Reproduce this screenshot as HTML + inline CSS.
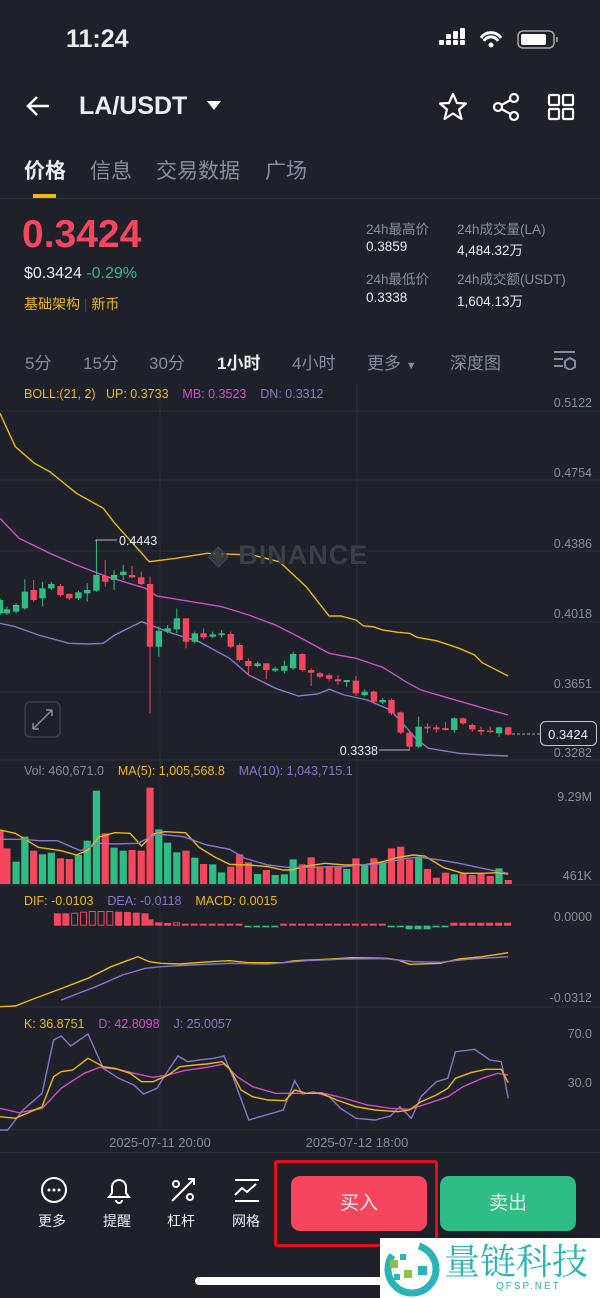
<!DOCTYPE html>
<html><head><meta charset="utf-8"><style>
body{margin:0;width:600px;height:1298px;background:#1e2129;overflow:hidden;position:relative;font-family:"Liberation Sans","Noto Sans CJK SC",sans-serif;color:#eaecef}
.a{position:absolute;white-space:nowrap}
.g{color:#848e9c}
</style></head><body>
<div class="a" style="left:66px;top:25px;font-size:25px;font-weight:bold">11:24</div>
<svg class="a" style="left:436px;top:28px" width="130" height="24">
<g fill="#fff"><rect x="3" y="12" width="5" height="5" rx="1"/><rect x="10" y="12" width="5" height="5" rx="1"/><rect x="17" y="12" width="5" height="5" rx="1"/><rect x="24" y="12" width="5" height="5" rx="1"/><rect x="10" y="6" width="5" height="5" rx="1"/><rect x="17" y="3" width="5" height="8" rx="1"/><rect x="24" y="0" width="5" height="11" rx="1"/></g>
<path d="M45 10 a12 12 0 0 1 20 0 M48 13 a8 8 0 0 1 14 0" stroke="#fff" stroke-width="3" fill="none"/><circle cx="55" cy="17" r="2.5" fill="#fff"/>
<rect x="82" y="3" width="36" height="17" rx="5" stroke="#aaa" stroke-width="1.5" fill="none"/><rect x="85" y="6" width="25" height="11" rx="2" fill="#fff"/><rect x="120" y="9" width="2" height="5" fill="#888"/>
</svg>
<svg class="a" style="left:24px;top:94px" width="30" height="24"><path d="M25 12H4 M13 3 L4 12 L13 21" stroke="#fff" stroke-width="2.5" fill="none"/></svg>
<div class="a" style="left:79px;top:92px;font-size:25px;font-weight:bold">LA/USDT</div>
<svg class="a" style="left:206px;top:100px" width="16" height="12"><path d="M1 1H15L8 10Z" fill="#fff"/></svg>
<svg class="a" style="left:438px;top:92px" width="140" height="30"><path d="M15 2 L19 11 L28 11.5 L21 17.5 L23.5 27 L15 21.5 L6.5 27 L9 17.5 L2 11.5 L11 11Z" stroke="#fff" stroke-width="2.2" fill="none" stroke-linejoin="round"/>
<g stroke="#fff" stroke-width="2.2" fill="none"><circle cx="60" cy="15" r="4"/><circle cx="76" cy="6" r="4"/><circle cx="76" cy="24" r="4"/><path d="M63.5 13 L72.5 8 M63.5 17 L72.5 22"/>
<rect x="111" y="3" width="10" height="10" rx="1"/><rect x="125" y="3" width="10" height="10" rx="1"/><rect x="111" y="17" width="10" height="10" rx="1"/><rect x="125" y="17" width="10" height="10" rx="1"/></g></svg>
<div class="a" style="left:24px;top:155px;font-size:21px;font-weight:bold">价格</div>
<div class="a g" style="left:90px;top:155px;font-size:21px">信息</div>
<div class="a g" style="left:156px;top:155px;font-size:21px">交易数据</div>
<div class="a g" style="left:265px;top:155px;font-size:21px">广场</div>
<div class="a" style="left:33px;top:194px;width:23px;height:4px;background:#f0b90b"></div>
<div class="a" style="left:0;top:198px;width:600px;height:1px;background:#2b2f36"></div>
<div class="a" style="left:22px;top:213px;font-size:39px;font-weight:bold;color:#f6465d">0.3424</div>
<div class="a" style="left:24px;top:265px;font-size:16px">$0.3424 <span style="color:#2ebd85">-0.29%</span></div>
<div class="a" style="left:24px;top:294px;font-size:14px;color:#f0b90b">基础架构 <span style="color:#444">|</span> 新币</div>
<div class="a g" style="left:366px;top:218px;font-size:13.5px">24h最高价</div>
<div class="a" style="left:366px;top:239px;font-size:13.5px">0.3859</div>
<div class="a g" style="left:366px;top:268px;font-size:13.5px">24h最低价</div>
<div class="a" style="left:366px;top:290px;font-size:13.5px">0.3338</div>
<div class="a g" style="left:457px;top:218px;font-size:13.5px">24h成交量(LA)</div>
<div class="a" style="left:457px;top:239px;font-size:13.5px">4,484.32万</div>
<div class="a g" style="left:457px;top:268px;font-size:13.5px">24h成交额(USDT)</div>
<div class="a" style="left:457px;top:290px;font-size:13.5px">1,604.13万</div>
<div class="a g" style="left:25px;top:349px;font-size:17px">5分</div>
<div class="a g" style="left:83px;top:349px;font-size:17px">15分</div>
<div class="a g" style="left:149px;top:349px;font-size:17px">30分</div>
<div class="a" style="left:217px;top:349px;font-size:17px;font-weight:bold">1小时</div>
<div class="a g" style="left:292px;top:349px;font-size:17px">4小时</div>
<div class="a g" style="left:367px;top:349px;font-size:17px">更多 <span style="font-size:11px">▼</span></div>
<div class="a g" style="left:450px;top:349px;font-size:17px">深度图</div>
<svg class="a" style="left:553px;top:350px" width="24" height="20"><path d="M1 2H22 M1 9H10 M1 16H10" stroke="#848e9c" stroke-width="2"/><path d="M17 8 L22 11 L22 17 L17 20 L12 17 L12 11Z" stroke="#848e9c" stroke-width="2" fill="none"/></svg>

<svg class="a" id="ch" style="left:0;top:0" width="600" height="1150"></svg>
<div class="a" style="left:24px;top:387px;font-size:12.5px;color:#f0b90b">BOLL:(21, 2)&nbsp;&nbsp; UP: 0.3733&nbsp;&nbsp;&nbsp; <span style="color:#d04fc6">MB: 0.3523</span>&nbsp;&nbsp;&nbsp; <span style="color:#8a76c8">DN: 0.3312</span></div>
<div class="a g" style="left:24px;top:764px;font-size:12.5px">Vol: 460,671.0&nbsp;&nbsp;&nbsp; <span style="color:#f0b90b">MA(5): 1,005,568.8</span>&nbsp;&nbsp;&nbsp; <span style="color:#8a76c8">MA(10): 1,043,715.1</span></div>
<div class="a" style="left:24px;top:894px;font-size:12.5px;color:#f0b90b">DIF: -0.0103&nbsp;&nbsp;&nbsp; <span style="color:#8a76c8">DEA: -0.0118</span>&nbsp;&nbsp;&nbsp; MACD: 0.0015</div>
<div class="a" style="left:24px;top:1017px;font-size:12.5px;color:#f0b90b">K: 36.8751&nbsp;&nbsp;&nbsp; <span style="color:#d04fc6">D: 42.8098</span>&nbsp;&nbsp;&nbsp; <span style="color:#8a76c8">J: 25.0057</span></div>
<div class="a" style="left:208px;top:540px;font-size:27px;font-weight:bold;color:#3a3e47;letter-spacing:1px">◈ BINANCE</div>

<div class="a" style="left:0;top:1152px;width:600px;height:1px;background:#2b2f36"></div>
<svg class="a" style="left:38px;top:1175px" width="230" height="30"><g stroke="#fff" stroke-width="2" fill="none">
<circle cx="16" cy="15" r="12"/><path d="M81 5 a7 7 0 0 1 7 7 v6 l3 4 h-20 l3-4 v-6 a7 7 0 0 1 7-7z M78 25 a3 3 0 0 0 6 0"/>
<path d="M134 26 L156 4 M150 4 h6 v6"/><circle cx="138" cy="9" r="3"/><circle cx="152" cy="22" r="3"/>
<path d="M197 5 h24 M197 26 h24 M197 20 l7-7 l5 4 l9-8"/></g>
<g fill="#fff"><circle cx="11" cy="15" r="1.5"/><circle cx="16" cy="15" r="1.5"/><circle cx="21" cy="15" r="1.5"/></g></svg>
<div class="a" style="left:38px;top:1211px;font-size:14px">更多</div>
<div class="a" style="left:103px;top:1211px;font-size:14px">提醒</div>
<div class="a" style="left:167px;top:1211px;font-size:14px">杠杆</div>
<div class="a" style="left:232px;top:1211px;font-size:14px">网格</div>
<div class="a" style="left:274px;top:1160px;width:158px;height:81px;border:3px solid #e0101a;border-radius:3px"></div>
<div class="a" style="left:291px;top:1176px;width:136px;height:55px;background:#f6465d;border-radius:9px;font-size:19px;text-align:center;line-height:55px">买入</div>
<div class="a" style="left:440px;top:1176px;width:136px;height:55px;background:#2ebd85;border-radius:9px;font-size:19px;text-align:center;line-height:55px">卖出</div>
<div class="a" style="left:195px;top:1277px;width:200px;height:8px;background:#fff;border-radius:4px"></div>
<div class="a" style="left:380px;top:1238px;width:220px;height:60px;background:#fff"></div>
<svg class="a" style="left:382px;top:1240px" width="60" height="58"><circle cx="30" cy="29" r="24" stroke="#2bb3b8" stroke-width="7" fill="none" stroke-dasharray="90 30"/><g fill="#8bc34a"><rect x="8" y="20" width="8" height="8"/><rect x="22" y="30" width="8" height="8"/></g><g fill="#2bb3b8"><rect x="18" y="14" width="6" height="6"/><rect x="12" y="34" width="6" height="6"/><rect x="36" y="26" width="9" height="9"/></g></svg>
<div class="a" style="left:444px;top:1240px;font-size:36px;line-height:40px;color:#2bb3b8;font-family:'Noto Serif CJK SC',serif">量链科技</div>
<div class="a" style="left:496px;top:1281px;font-size:10px;color:#2bb3b8;letter-spacing:2px">QFSP.NET</div>

<script>
const S=2.613,sv=document.getElementById('ch');
let h='';
const R='#f6465d',G='#2ebd85',X=z=>z/S;
[411,480,551,622,692,760,885,1007,1130].forEach(y=>h+=`<line x1="0" x2="600" y1="${y}" y2="${y}" stroke="#2a2e36" stroke-width="1"/>`);
[160,357].forEach(x=>h+=`<line x1="${x}" x2="${x}" y1="384" y2="1130" stroke="#2a2e36" stroke-width="1"/>`);
const T=(x,y,t,c,s,a)=>h+=`<text x="${x}" y="${y}" fill="${c||'#848e9c'}" font-size="${s||12.5}" text-anchor="${a||'end'}" font-family="Liberation Sans">${t}</text>`;
[['0.5122',407],['0.4754',477],['0.4386',548],['0.4018',618],['0.3651',688],['0.3282',757],['9.29M',801],['461K',880],['0.0000',921],['-0.0312',1002],['70.0',1038],['30.0',1087]].forEach(v=>T(592,v[1],v[0]));
T(160,1147,'2025-07-11 20:00','#848e9c',13,'middle');T(357,1147,'2025-07-12 18:00','#848e9c',13,'middle');
const C=[[0,'g',660,700,655,705],[18,'g',700,688,680,705],[42,'g',695,675,670,700],[65,'g',685,635,598,690],[88,'r',630,660,600,665],[111,'g',655,625,605,680],[134,'g',625,612,605,630],[158,'r',618,645,612,650],[181,'r',642,655,640,660],[205,'g',655,637,632,660],[228,'g',640,630,610,665],[252,'g',632,585,482,635],[275,'r',588,605,540,620],[298,'g',600,585,570,630],[322,'g',585,575,555,600],[345,'r',585,592,558,595],[369,'r',592,612,575,615],[392,'r',612,800,590,1000],[415,'g',800,752,740,830],[438,'g',755,745,735,760],[462,'g',748,715,685,760],[486,'r',715,785,715,805],[509,'g',785,760,755,790],[532,'r',760,772,745,778],[556,'g',770,763,755,775],[579,'g',765,760,750,772],[603,'r',762,800,755,805],[626,'r',795,840,790,845],[649,'r',843,858,835,885],[673,'g',858,850,845,862],[696,'r',850,870,850,898],[719,'g',872,866,860,876],[743,'g',872,858,842,880],[766,'g',865,822,815,870],[790,'r',822,870,820,875],[813,'r',870,878,865,918],[836,'r',880,890,875,895],[860,'r',886,896,880,905],[883,'r',898,904,885,915],[906,'g',906,900,900,920],[930,'r',902,940,888,948],[953,'g',945,935,928,950],[977,'r',935,965,932,970],[1000,'g',967,960,955,972],[1023,'r',960,1000,955,1005],[1047,'r',997,1058,995,1062],[1070,'r',1058,1100,1055,1108],[1094,'g',1100,1040,1010,1105],[1117,'r',1040,1045,1030,1060],[1140,'r',1042,1048,1035,1058],[1164,'r',1044,1050,1025,1052],[1187,'g',1050,1015,1012,1058],[1210,'r',1015,1030,1012,1035],[1234,'r',1035,1048,1030,1055],[1257,'r',1050,1055,1040,1065],[1281,'r',1052,1056,1040,1058],[1304,'g',1060,1042,1040,1070],[1328,'r',1042,1064,1040,1066]];
const Y1=z=>380+z/3,Y2=z=>760+z/3;
const L=(pts,c,Y)=>h+=`<polyline fill="none" stroke="${c}" stroke-width="1.4" points="${pts.map(p=>X(p[0]).toFixed(1)+','+Y(p[1]).toFixed(1)).join(' ')}"/>`;
L([[0,100],[40,200],[90,250],[130,275],[200,340],[270,385],[300,430],[390,545],[460,535],[540,520],[660,525],[730,545],[800,620],[860,708],[890,708],[930,720],[950,738],[975,740],[1000,750],[1040,757],[1070,760],[1090,772],[1140,782],[1200,805],[1240,825],[1260,848],[1328,888]],'#f0b90b',Y1);
L([[0,415],[50,475],[130,520],[200,555],[280,590],[380,625],[410,648],[500,665],[580,680],[650,705],[720,735],[780,770],[860,820],[930,835],[1000,862],[1060,905],[1100,930],[1160,950],[1220,970],[1280,990],[1328,1005]],'#d04fc6',Y1);
L([[0,730],[40,740],[100,765],[180,790],[230,792],[270,790],[300,765],[370,725],[450,760],[520,785],[600,835],[650,885],[720,925],[780,948],[830,942],[860,928],[900,945],[960,960],[1020,990],[1060,1040],[1090,1080],[1120,1105],[1200,1120],[1260,1125],[1328,1128]],'#8a76c8',Y1);
C.forEach(c=>{const x=X(c[0]),col=c[1]=='g'?G:R,t=Math.min(c[2],c[3]),b=Math.max(c[2],c[3]);
h+=`<line x1="${x}" x2="${x}" y1="${Y1(c[4])}" y2="${Y1(c[5])}" stroke="${col}" stroke-width="1"/><rect x="${x-3.2}" y="${Y1(t)}" width="6.4" height="${Math.max(1.2,(b-t)/3)}" fill="${col}"/>`;});
h+=`<polyline points="96,541 96,540 117,540" fill="none" stroke="#eaecef" stroke-width="0.8"/>`;T(119,545,'0.4443','#eaecef',12.5,'start');
h+=`<line x1="379" x2="410" y1="750" y2="750" stroke="#eaecef" stroke-width="0.8"/>`;T(378,755,'0.3338','#eaecef',12.5,'end');
h+=`<line x1="512" x2="540" y1="734" y2="734" stroke="#aaa" stroke-dasharray="3 2"/><rect x="540.5" y="721.5" width="56" height="24" rx="5" fill="#1e2129" stroke="#c8c8c8"/>`;T(568,739,'0.3424','#eaecef',13,'middle');
h+=`<rect x="25" y="702" width="35" height="35" rx="5" fill="none" stroke="#3a3e47" stroke-width="1.5"/><path d="M33 729 L52 710 M33 729 v-6 M33 729 h6 M52 710 h-6 M52 710 v6" stroke="#848e9c" stroke-width="1.5" fill="none"/>`;
const V=[213,265,305,230,272,283,278,295,297,285,242,92,220,263,272,270,272,83,208,248,277,272,293,312,313,337,320,283,307,342,330,345,343,298,313,292,322,318,320,327,295,313,295,307,265,260,298,290,327,353,338,343,340,345,340,348,325,360];
V.forEach((v,i)=>{const x=X(C[i][0]),col=C[i][1]=='g'?G:R;const cc=i<2?R:col;h+=`<rect x="${x-3.6}" y="${Y2(v)}" width="7.2" height="${884-Y2(v)}" fill="${cc}"/>`;});
L([[0,210],[40,220],[100,262],[160,272],[200,285],[230,270],[260,230],[300,218],[340,220],[370,258],[400,222],[430,215],[485,218],[520,262],[560,290],[600,313],[650,315],[700,320],[740,330],[760,330],[800,318],[850,310],[900,315],[950,315],[1000,305],[1040,292],[1080,285],[1110,288],[1160,323],[1210,340],[1260,340],[1300,338],[1328,342]],'#f0b90b',Y2);
L([[0,238],[60,238],[100,242],[150,242],[210,272],[260,250],[300,252],[360,250],[410,222],[480,230],[540,255],[600,268],[640,295],[700,315],[750,322],[800,322],[900,320],[1000,310],[1060,295],[1100,292],[1150,300],[1200,310],[1260,325],[1328,340]],'#8a76c8',Y2);
const Z=Y2(497);
const MH=[[150,460,1],[172,460,1],[195,458,0],[218,455,0],[241,453,0],[264,453,0],[287,453,0],[310,455,1],[333,456,1],[356,458,1],[379,460,1],[392,478,1],[415,487,1],[438,489,1],[461,487,0]];
MH.forEach(m=>{const x=X(m[0]),y=Y2(m[1]);h+=m[2]?`<rect x="${x-3.5}" y="${y}" width="7" height="${Z-y}" fill="${R}"/>`:`<rect x="${x-3}" y="${y+0.5}" width="6" height="${Z-y-1}" fill="none" stroke="${R}"/>`;});
for(let zx=484;zx<=1330;zx+=23.4){let col,t,b;if(zx>630&&zx<735||zx>1012&&zx<1178){col=G;t=Z;b=Y2(zx>1050&&zx<1130?508:502);}else{col=R;t=Y2(zx>1170?488:491);b=Z;}h+=`<rect x="${X(zx)-3.5}" y="${t}" width="7" height="${Math.max(1.5,b-t)}" fill="${col}"/>`;}
L([[0,740],[40,738],[80,720],[150,690],[230,655],[290,620],[360,590],[390,605],[420,610],[470,612],[550,605],[600,602],[650,608],[740,608],[770,602],[850,598],[920,593],[1010,595],[1040,600],[1070,613],[1150,610],[1200,597],[1260,590],[1328,578]],'#f0b90b',Y2);
L([[160,720],[250,680],[320,645],[380,625],[420,620],[500,615],[600,610],[700,612],[800,602],[900,597],[1010,596],[1080,605],[1150,607],[1220,598],[1328,590]],'#8a76c8',Y2);
L([[0,1110],[20,1110],[60,1050],[110,1000],[140,840],[160,828],[185,858],[230,822],[270,925],[310,955],[350,975],[375,1002],[410,985],[440,930],[465,888],[490,905],[520,900],[560,895],[585,888],[610,955],[650,1080],[680,1070],[740,1050],[770,962],[790,1002],[820,996],[860,1010],[890,1045],[930,1075],[980,1080],[1020,1068],[1045,1040],[1075,1075],[1100,1010],[1140,965],[1170,955],[1190,875],[1240,868],[1280,900],[1310,905],[1328,1015]],'#8a76c8',Y2);
L([[0,1045],[50,1058],[110,1045],[160,985],[220,940],[260,922],[310,928],[350,940],[400,952],[440,945],[480,932],[540,922],[585,912],[620,950],[660,980],[720,1000],[790,1000],[840,998],[900,1015],[960,1035],[1020,1045],[1070,1048],[1120,1030],[1170,1010],[1210,980],[1260,955],[1300,940],[1328,945]],'#d04fc6',Y2);
L([[0,1070],[40,1075],[80,1055],[110,1040],[140,950],[160,935],[190,930],[230,895],[270,920],[300,925],[340,940],[370,965],[400,965],[440,945],[470,920],[510,915],[540,912],[580,905],[600,925],[630,990],[660,1010],[700,1020],[745,1022],[770,990],[800,1000],[840,1000],[880,1020],[930,1040],[980,1050],[1040,1055],[1070,1050],[1100,1025],[1140,1005],[1170,985],[1190,955],[1230,938],[1270,928],[1310,928],[1328,968]],'#f0b90b',Y2);
sv.innerHTML=h;
</script>
</body></html>
